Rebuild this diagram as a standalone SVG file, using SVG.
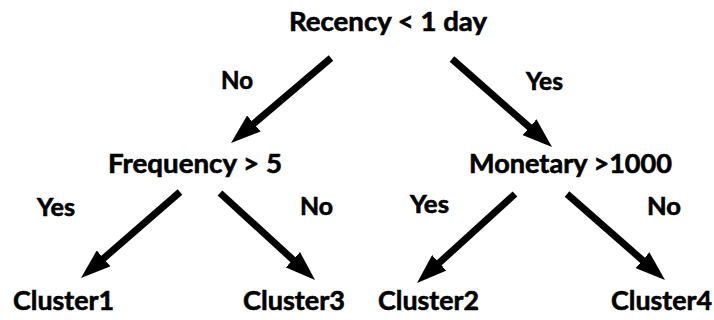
<svg xmlns="http://www.w3.org/2000/svg" width="714" height="320" viewBox="0 0 714 320">
  <style>
    .node { font-family: Lato, "Open Sans", "Liberation Sans", sans-serif; font-weight: bold; font-size: 27px; fill: #000; stroke: #000; stroke-width: 0.6px; }
    .label { font-family: Lato, "Open Sans", "Liberation Sans", sans-serif; font-weight: bold; font-size: 24px; fill: #000; stroke: #000; stroke-width: 0.6px; }
    .edge { stroke: #000; stroke-width: 7; fill: none; marker-end: url(#head); }
  </style>
  <defs>
    <marker id="head" markerUnits="userSpaceOnUse" viewBox="0 0 30 21" markerWidth="30" markerHeight="21" refX="8" refY="10.5" orient="auto">
      <path d="M0,0 L30,10.5 L0,21 Z" fill="#000"/>
    </marker>
  </defs>
  <rect width="714" height="320" fill="#fff"/>

  <!-- decision tree edges -->
  <g id="connectors">
    <line class="edge" x1="331" y1="58" x2="247.8" y2="128.7"/>
    <line class="edge" x1="452" y1="59" x2="535.5" y2="132.5"/>
    <line class="edge" x1="180" y1="192" x2="97.6" y2="263.6"/>
    <line class="edge" x1="220" y1="193" x2="298.8" y2="265.1"/>
    <line class="edge" x1="515" y1="194" x2="433.3" y2="268.2"/>
    <line class="edge" x1="567" y1="194" x2="648.5" y2="265.5"/>
  </g>

  <!-- branch labels -->
  <g id="labels">
    <text class="label" x="221" y="89" textLength="32" lengthAdjust="spacingAndGlyphs">No</text>
    <text class="label" x="526" y="90" textLength="37" lengthAdjust="spacingAndGlyphs">Yes</text>
    <text class="label" x="37" y="216" textLength="38" lengthAdjust="spacingAndGlyphs">Yes</text>
    <text class="label" x="300" y="215" textLength="33" lengthAdjust="spacingAndGlyphs">No</text>
    <text class="label" x="410" y="213" textLength="39" lengthAdjust="spacingAndGlyphs">Yes</text>
    <text class="label" x="647" y="215" textLength="34" lengthAdjust="spacingAndGlyphs">No</text>
  </g>

  <!-- decision nodes -->
  <g id="recency">
    <text class="node" x="289" y="31" textLength="198" lengthAdjust="spacingAndGlyphs">Recency &lt; 1 day</text>
  </g>
  <g id="frequency">
    <text class="node" x="108" y="173" textLength="174" lengthAdjust="spacingAndGlyphs">Frequency &gt; 5</text>
  </g>
  <g id="monetary">
    <text class="node" x="469" y="173" textLength="203" lengthAdjust="spacingAndGlyphs">Monetary &gt;1000</text>
  </g>

  <!-- leaf clusters -->
  <g id="cluster1">
    <text class="node" x="13" y="310" textLength="101" lengthAdjust="spacingAndGlyphs">Cluster1</text>
  </g>
  <g id="cluster3">
    <text class="node" x="243" y="310" textLength="102" lengthAdjust="spacingAndGlyphs">Cluster3</text>
  </g>
  <g id="cluster2">
    <text class="node" x="378" y="310" textLength="101" lengthAdjust="spacingAndGlyphs">Cluster2</text>
  </g>
  <g id="cluster4">
    <text class="node" x="611" y="310" textLength="101" lengthAdjust="spacingAndGlyphs">Cluster4</text>
  </g>
</svg>
